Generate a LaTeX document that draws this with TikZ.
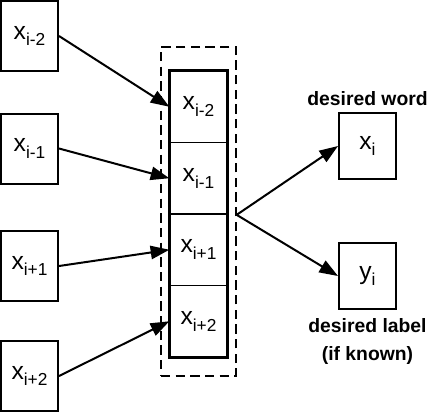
\documentclass[tikz,border=0pt]{standalone}
\usepackage{fontspec}
\setmainfont{Liberation Sans}
\usetikzlibrary{arrows.meta,positioning}
\newcommand{\wsub}[2]{#1\raisebox{-5pt}{\fontsize{13}{13}\selectfont #2}}

\begin{document}
\begin{tikzpicture}[x=0.75pt,y=-0.75pt,font=\fontsize{18.5}{20}\selectfont,
  wordbox/.style={draw,line width=1.5pt,minimum width=42.75pt,minimum height=52.5pt,inner sep=0pt},
  cell/.style={draw,line width=1pt,minimum width=42.75pt,minimum height=53.6pt,inner sep=0pt},
  arr/.style={line width=1.5pt,-{Triangle[length=14pt,width=10pt]}},
  caption/.style={font=\bfseries\fontsize{14.5}{21}\selectfont,align=center,inner sep=0pt}]
  \useasboundingbox (0,0) rectangle (434,412);
  % context words
  \foreach \n/\y/\s in {a/36/i-2,b/148.5/i-1,c/266/i+1,d/376/i+2}{
    \node[wordbox] (in\n) at (29.5,\y) {\wsub{x}{\s}};
  }
  % window
  \node[draw,dash pattern=on 7pt off 4pt,line width=1pt,minimum width=56.25pt,
    minimum height=246.75pt] (win) at (198.5,211.5) {};
  \foreach \n/\y/\s in {a/106.75/i-2,b/178.25/i-1,c/249.75/i+1,d/321.25/i+2}{
    \node[cell] (c\n) at (198.5,\y) {\wsub{x}{\s}};
    \draw[arr] (in\n.east) -- (c\n.west);
  }
  \draw[line width=2.25pt] (ca.north west) rectangle (cd.south east);
  % outputs
  \node[wordbox,minimum height=50pt] (xi) at (367.5,146) {\wsub{x}{i}};
  \node[wordbox,minimum height=50pt] (yi) at (367.5,276) {\wsub{y}{i}};
  \node[caption,above=4.5pt of xi] (lword) {desired word};
  \node[caption,below=6pt of yi] (llabel) {desired label\\(if known)};
  \coordinate (split) at ([yshift=-2.5pt]win.east);
  \draw[arr] (split) -- (xi.west);
  \draw[arr] (split) -- (yi.west);
\end{tikzpicture}
\end{document}
